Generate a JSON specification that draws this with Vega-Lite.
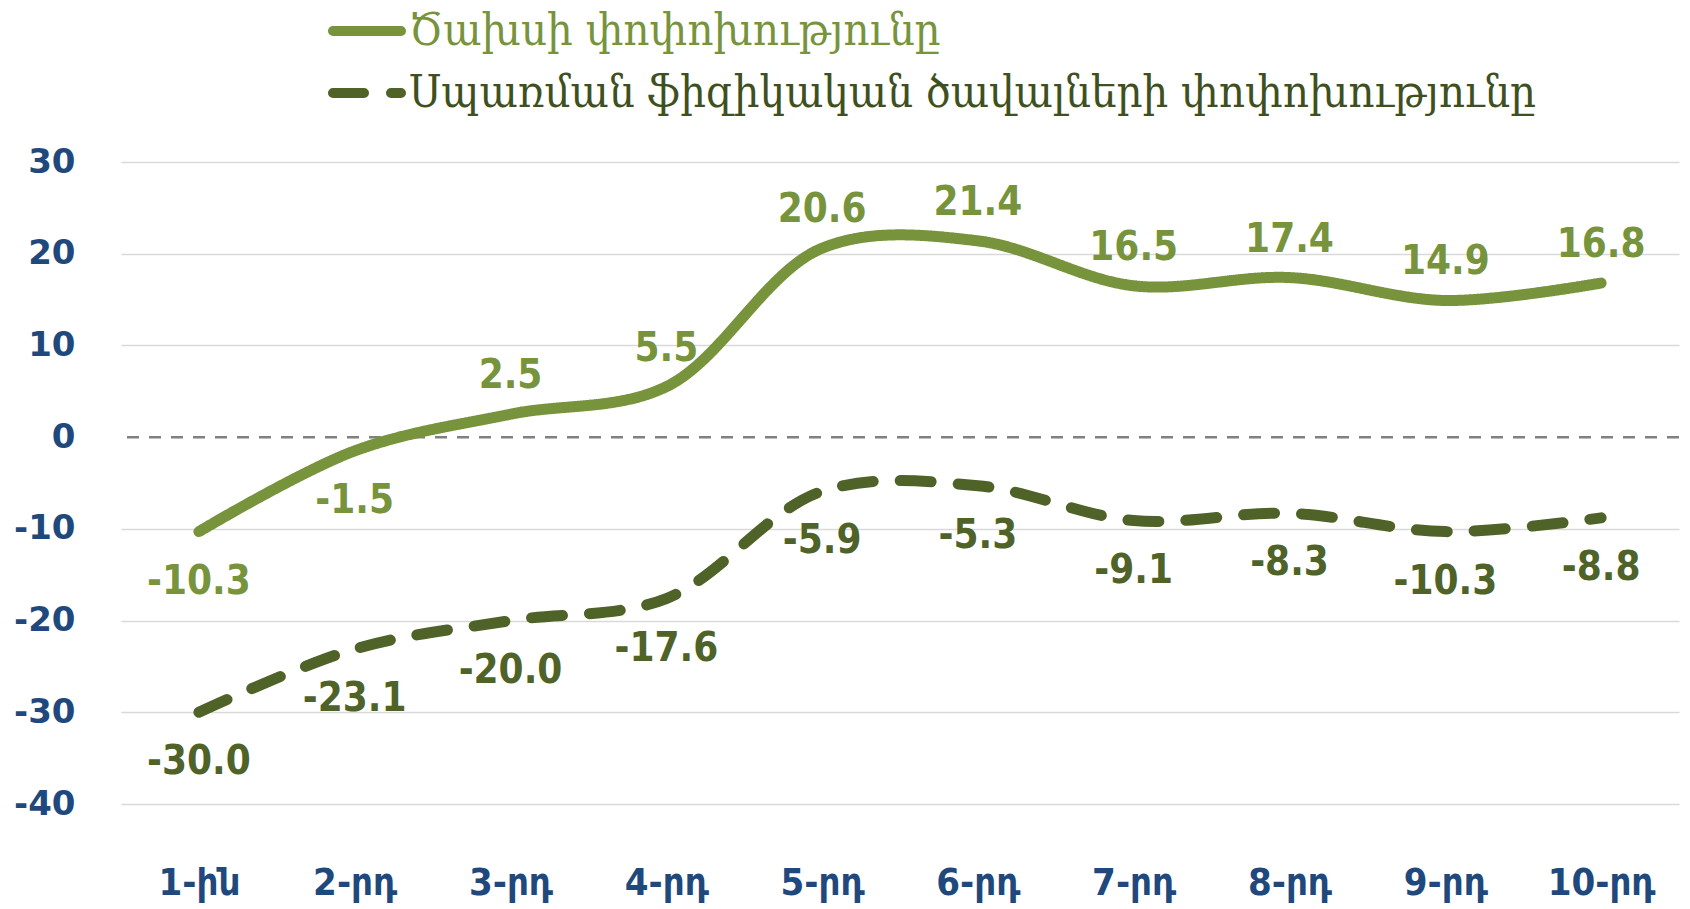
{
  "$schema": "https://vega.github.io/schema/vega-lite/v6.json",
  "width": 1558,
  "height": 642,
  "autosize": {"type": "none"},
  "padding": {"left": 121, "top": 162, "right": 11, "bottom": 105},
  "background": "white",
  "config": {"view": {"stroke": null}},
  "data": {"values": [
    {"period": "1-ին", "series": "Ծախսի փոփոխությունը", "value": -10.3},
    {"period": "2-րդ", "series": "Ծախսի փոփոխությունը", "value": -1.5},
    {"period": "3-րդ", "series": "Ծախսի փոփոխությունը", "value": 2.5},
    {"period": "4-րդ", "series": "Ծախսի փոփոխությունը", "value": 5.5},
    {"period": "5-րդ", "series": "Ծախսի փոփոխությունը", "value": 20.6},
    {"period": "6-րդ", "series": "Ծախսի փոփոխությունը", "value": 21.4},
    {"period": "7-րդ", "series": "Ծախսի փոփոխությունը", "value": 16.5},
    {"period": "8-րդ", "series": "Ծախսի փոփոխությունը", "value": 17.4},
    {"period": "9-րդ", "series": "Ծախսի փոփոխությունը", "value": 14.9},
    {"period": "10-րդ", "series": "Ծախսի փոփոխությունը", "value": 16.8},
    {"period": "1-ին", "series": "Սպառման ֆիզիկական ծավալների փոփոխությունը", "value": -30.0},
    {"period": "2-րդ", "series": "Սպառման ֆիզիկական ծավալների փոփոխությունը", "value": -23.1},
    {"period": "3-րդ", "series": "Սպառման ֆիզիկական ծավալների փոփոխությունը", "value": -20.0},
    {"period": "4-րդ", "series": "Սպառման ֆիզիկական ծավալների փոփոխությունը", "value": -17.6},
    {"period": "5-րդ", "series": "Սպառման ֆիզիկական ծավալների փոփոխությունը", "value": -5.9},
    {"period": "6-րդ", "series": "Սպառման ֆիզիկական ծավալների փոփոխությունը", "value": -5.3},
    {"period": "7-րդ", "series": "Սպառման ֆիզիկական ծավալների փոփոխությունը", "value": -9.1},
    {"period": "8-րդ", "series": "Սպառման ֆիզիկական ծավալների փոփոխությունը", "value": -8.3},
    {"period": "9-րդ", "series": "Սպառման ֆիզիկական ծավալների փոփոխությունը", "value": -10.3},
    {"period": "10-րդ", "series": "Սպառման ֆիզիկական ծավալների փոփոխությունը", "value": -8.8}
  ]},
  "encoding": {
    "x": {
      "field": "period", "type": "ordinal", "sort": null,
      "scale": {"type": "point", "padding": 0.5},
      "axis": {
        "title": null, "domain": false, "ticks": false, "grid": false,
        "labelAngle": 0, "labelFont": "DejaVu Sans Condensed", "labelFontWeight": "bold",
        "labelFontSize": 38, "labelColor": "#1F497D", "labelPadding": 60
      }
    },
    "y": {
      "field": "value", "type": "quantitative",
      "scale": {"domain": [-40, 30], "nice": false, "zero": false},
      "axis": {
        "title": null, "domain": false, "ticks": false,
        "values": [-40, -30, -20, -10, 0, 10, 20, 30],
        "labelExpr": "replace(format(datum.value, 'd'), '\u2212', '-')",
        "labelFont": "DejaVu Sans", "labelFontWeight": "bold", "labelFontSize": 34,
        "labelColor": "#1F497D", "labelPadding": 46,
        "gridColor": {"condition": {"test": "datum.value === 0", "value": "transparent"}, "value": "#D9D9D9"},
        "gridWidth": 1.5
      }
    }
  },
  "layer": [
    {
      "data": {"values": [{"base": 0}]},
      "mark": {"type": "rule", "color": "#808080", "strokeWidth": 2.5, "strokeDash": [12, 10]},
      "encoding": {"y": {"field": "base", "type": "quantitative"}, "x": null}
    },
    {
      "mark": {"type": "line", "interpolate": "catmull-rom", "strokeCap": "round", "strokeWidth": 11},
      "encoding": {
        "color": {
          "field": "series", "type": "nominal", "sort": null,
          "scale": {"domain": ["Ծախսի փոփոխությունը", "Սպառման ֆիզիկական ծավալների փոփոխությունը"], "range": ["#77933C", "#4F6228"]},
          "legend": {
            "title": null, "orient": "none", "legendX": 207, "legendY": -170, "direction": "vertical",
            "symbolType": "stroke", "symbolSize": 4624, "symbolStrokeWidth": 10,
            "labelFont": "DejaVu Serif Condensed", "labelFontSize": 45, "labelLimit": 1400,
            "labelOffset": 3, "rowPadding": -3, "padding": 0,
            "encode": {
              "labels": {"update": {"fill": {"signal": "datum.value === 'Ծախսի փոփոխությունը' ? '#77933C' : '#3F5020'"}}},
              "symbols": {"update": {"strokeCap": {"value": "round"}}}
            }
          }
        },
        "strokeDash": {
          "field": "series", "type": "nominal", "sort": null,
          "scale": {"domain": ["Ծախսի փոփոխությունը", "Սպառման ֆիզիկական ծավալների փոփոխությունը"], "range": [[1, 0], [31, 27]]}
        }
      }
    },
    {
      "transform": [{"filter": "datum.value >= 0"}],
      "mark": {"type": "text", "font": "DejaVu Sans Condensed", "fontWeight": "bold", "fontSize": 40, "baseline": "middle", "dy": -38,
               "text": {"expr": "replace(format(datum.value, '.1f'), '\u2212', '-')"}},
      "encoding": {
        "color": {"condition": {"test": "datum.series === 'Ծախսի փոփոխությունը'", "value": "#77933C"}, "value": "#4F6228"}
      }
    },
    {
      "transform": [{"filter": "datum.value < 0"}],
      "mark": {"type": "text", "font": "DejaVu Sans Condensed", "fontWeight": "bold", "fontSize": 40, "baseline": "middle", "dy": 50,
               "text": {"expr": "replace(format(datum.value, '.1f'), '\u2212', '-')"}},
      "encoding": {
        "color": {"condition": {"test": "datum.series === 'Ծախսի փոփոխությունը'", "value": "#77933C"}, "value": "#4F6228"}
      }
    }
  ]
}
